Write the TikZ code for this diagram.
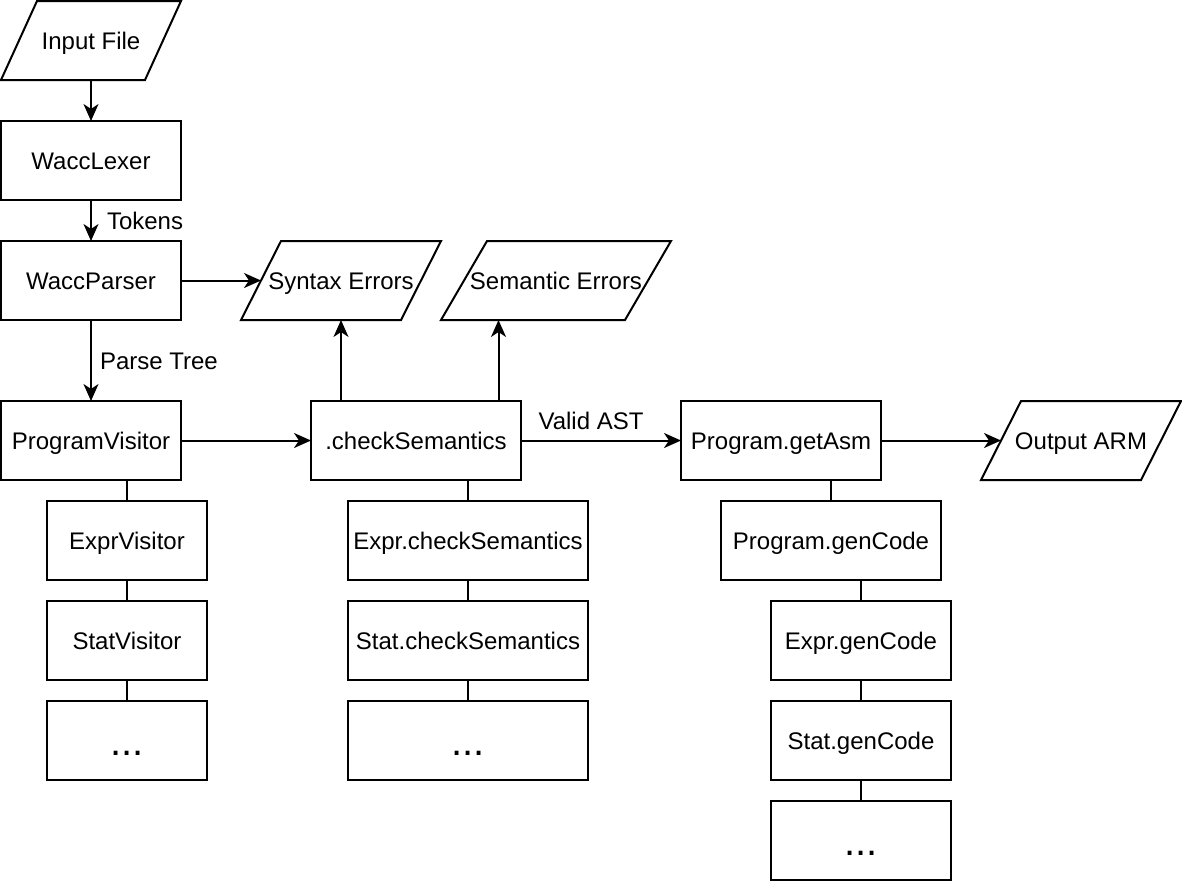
\documentclass[tikz,border=0pt]{standalone}
\usepackage{fontspec}
\setmainfont{Liberation Sans}
\usetikzlibrary{arrows.meta,calc}
\begin{document}
\begin{tikzpicture}[x=1pt,y=-1pt,
  every node/.style={font=\fontsize{24}{28}\selectfont, text height=17.2pt, text depth=0pt, inner sep=0pt, outer sep=0pt},
  box/.style={draw, line width=2pt, minimum height=79pt},
  para/.style={minimum height=79pt},
  dotbox/.style={box, font=\fontsize{40}{40}\selectfont, text height=29pt, text depth=0pt},
  arr/.style={line width=2pt, -{Stealth[length=17pt,width=15pt,inset=5pt]}},
  link/.style={line width=2pt},
  outline/.style={line width=2pt, line join=miter}]
\useasboundingbox (0,0) rectangle (1182,884);

% column 1
\node[para, minimum width=180pt] (inp) at (91,40.5) {Input File};
\draw[outline] ([xshift=36pt]inp.north west) -- (inp.north east) -- ([xshift=-36pt]inp.south east) -- (inp.south west) -- cycle;
\node[box, minimum width=180pt] (lex) at (91,160.5) {WaccLexer};
\node[box, minimum width=180pt] (par) at (91,280.5) {WaccParser};
\node[box, minimum width=180pt] (pv) at (91,440.5) {ProgramVisitor};
\node[box, minimum width=160pt] (ev) at (127,540.5) {ExprVisitor};
\node[box, minimum width=160pt] (sv) at (127,640.5) {StatVisitor};
\node[dotbox, minimum width=160pt] (d1) at (127,740.5) {...};

% error outputs
\node[para, minimum width=200pt] (syn) at (341,280.5) {Syntax Errors};
\draw[outline] ([xshift=40pt]syn.north west) -- (syn.north east) -- ([xshift=-40pt]syn.south east) -- (syn.south west) -- cycle;
\node[para, minimum width=230pt] (sem) at (556,280.5) {Semantic Errors};
\draw[outline] ([xshift=46pt]sem.north west) -- (sem.north east) -- ([xshift=-46pt]sem.south east) -- (sem.south west) -- cycle;
\coordinate (semx) at (498.5,0);

% column 2
\node[box, minimum width=210pt] (cs) at (416,440.5) {.checkSemantics};
\node[box, minimum width=240pt] (ecs) at (468,540.5) {Expr.checkSemantics};
\node[box, minimum width=240pt] (scs) at (468,640.5) {Stat.checkSemantics};
\node[dotbox, minimum width=240pt] (d2) at (468,740.5) {...};

% column 3
\node[box, minimum width=200pt] (ga) at (781,440.5) {Program.getAsm};
\node[box, minimum width=220pt] (pgc) at (831,540.5) {Program.genCode};
\node[box, minimum width=180pt] (egc) at (861,640.5) {Expr.genCode};
\node[box, minimum width=180pt] (sgc) at (861,740.5) {Stat.genCode};
\node[dotbox, minimum width=180pt] (d3) at (861,840.5) {...};

% output
\node[para, minimum width=200pt] (out) at (1081,440.5) {Output ARM};
\draw[outline] ([xshift=40pt]out.north west) -- (out.north east) -- ([xshift=-40pt]out.south east) -- (out.south west) -- cycle;

% arrows
\draw[arr] (inp.south) -- (lex.north);
\draw[arr] (lex.south) -- node[anchor=west, xshift=16pt] {Tokens} (par.north);
\draw[arr] (par.east) -- ([xshift=20pt]syn.west);
\draw[arr] (par.south) -- node[anchor=west, xshift=9pt] {Parse Tree} (pv.north);
\draw[arr] (pv.east) -- (cs.west);
\draw[arr] (syn.south |- cs.north) -- (syn.south);
\draw[arr] (semx |- cs.north) -- (semx |- sem.south);
\draw[arr] (cs.east) -- node[xshift=-10pt, yshift=20pt] {Valid AST} (ga.west);
\draw[arr] (ga.east) -- ([xshift=20pt]out.west);

% plain links
\draw[link] (ev.north |- pv.south) -- (ev.north);
\draw[link] (ev.south) -- (sv.north);
\draw[link] (sv.south) -- (d1.north);
\draw[link] (ecs.north |- cs.south) -- (ecs.north);
\draw[link] (ecs.south) -- (scs.north);
\draw[link] (scs.south) -- (d2.north);
\draw[link] (pgc.north |- ga.south) -- (pgc.north);
\draw[link] (egc.north |- pgc.south) -- (egc.north);
\draw[link] (egc.south) -- (sgc.north);
\draw[link] (sgc.south) -- (d3.north);
\end{tikzpicture}
\end{document}
